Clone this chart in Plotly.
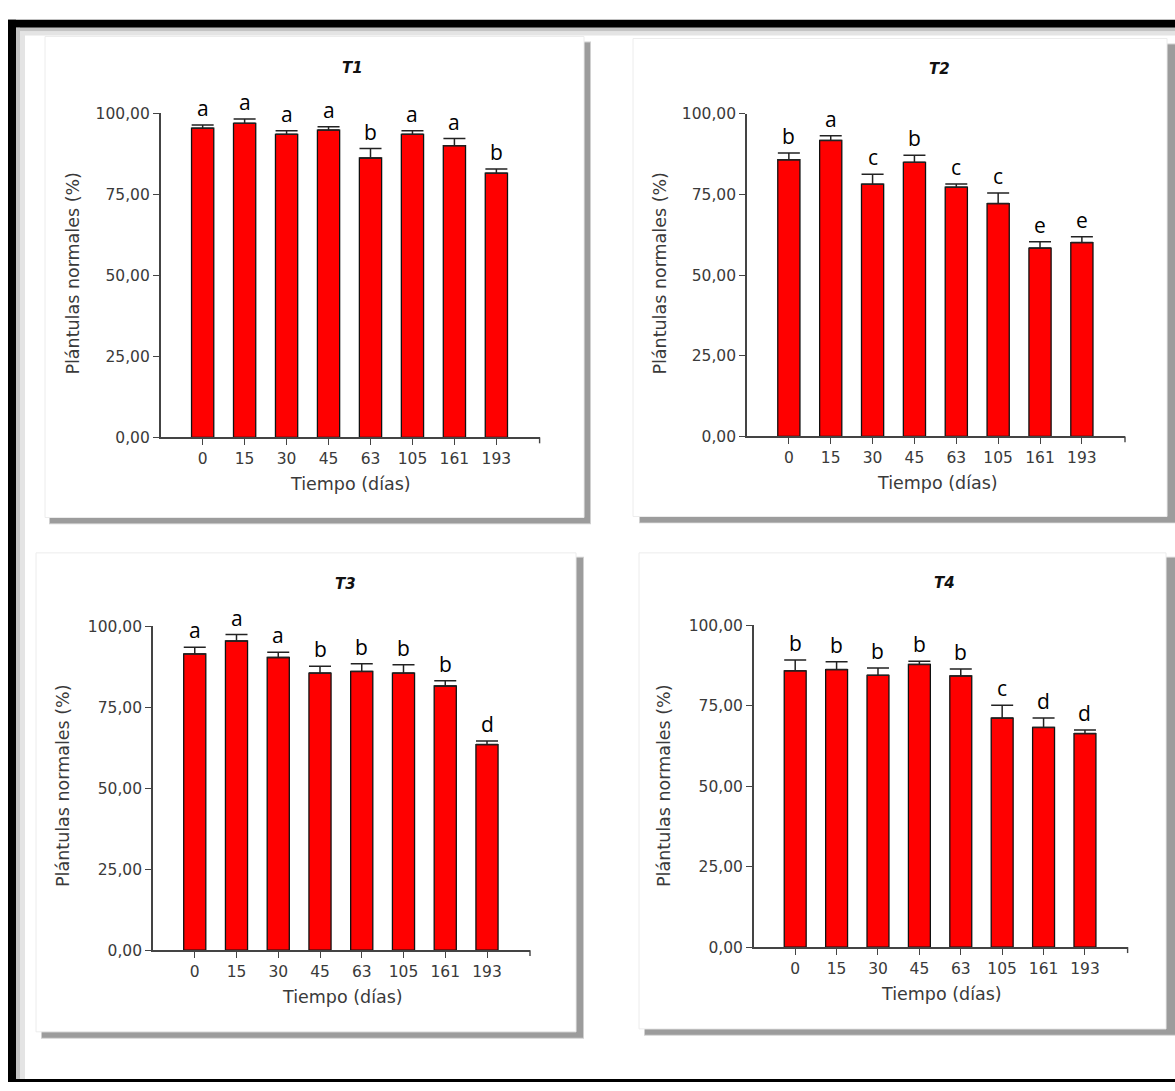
import plotly.graph_objects as go

# ---------------- data ----------------
days = ["0", "15", "30", "45", "63", "105", "161", "193"]

t1_mean = [95.4, 96.9, 93.5, 94.8, 86.2, 93.5, 90.0, 81.5]
t1_err = [1.0, 1.3, 1.1, 1.0, 2.9, 1.1, 2.2, 1.3]
t1_letters = ["a", "a", "a", "a", "b", "a", "a", "b"]

t2_mean = [85.8, 91.8, 78.2, 85.0, 77.3, 72.2, 58.4, 60.1]
t2_err = [2.1, 1.4, 3.1, 2.2, 1.0, 3.3, 2.0, 1.8]
t2_letters = ["b", "a", "c", "b", "c", "c", "e", "e"]

t3_mean = [91.5, 95.5, 90.4, 85.6, 86.1, 85.6, 81.6, 63.5]
t3_err = [2.1, 2.0, 1.6, 2.1, 2.4, 2.6, 1.6, 1.1]
t3_letters = ["a", "a", "a", "b", "b", "b", "b", "d"]

t4_mean = [85.9, 86.3, 84.5, 87.9, 84.3, 71.2, 68.3, 66.4]
t4_err = [3.4, 2.4, 2.3, 1.0, 2.2, 4.0, 2.9, 1.1]
t4_letters = ["b", "b", "b", "b", "b", "c", "d", "d"]

panel_titles = ["T1", "T2", "T3", "T4"]
y_ticks = [0, 25, 50, 75, 100]
x_title = "Tiempo (días)"
y_title = "Plántulas normales (%)"

# ---------------- layout geometry (pixels) ----------------
W, H = 1175, 1091


def px(x):
    return x / W


def py(y):
    return 1 - y / H


# plot area: (x_left, x_right, y_zero, y_hundred)
areas = [
    (160.7, 539.6, 435.6, 106.0),
    (747.0, 1125.0, 434.6, 106.7),
    (153.0, 530.0, 957.0, 627.8),
    (753.8, 1127.6, 953.9, 626.8),
]
# white boxes and shadows
boxes = [
    (45, 28, 584, 517),
    (633, 30, 1167, 516),
    (36, 553, 576, 1040),
    (639, 553, 1166, 1037),
]
shadows = [
    (50, 34, 590, 523),
    (640, 36, 1175, 522),
    (42, 558, 583, 1046),
    (645, 558, 1175, 1043),
]
title_pos = [(352, 60), (939, 61), (345, 585), (944, 584)]
xtitle_pos = [(350, 483), (937, 482), (342, 1005), (941, 1002)]
ytitle_pos = [(73, 269), (660, 269), (63, 790), (664, 790)]

series = [
    (t1_mean, t1_err, t1_letters),
    (t2_mean, t2_err, t2_letters),
    (t3_mean, t3_err, t3_letters),
    (t4_mean, t4_err, t4_letters),
]

AX = "#444444"
TXT = "#3a3a3a"
FONT = "DejaVu Sans"

fig = go.Figure()
shapes = []
annotations = []

# outer black frame + gray inner fade
shapes += [
    dict(type="rect", xref="paper", yref="paper", x0=px(8), x1=px(W), y0=py(11), y1=py(19),
         fillcolor="black", line_width=0, layer="below"),
    dict(type="rect", xref="paper", yref="paper", x0=px(8), x1=px(16), y0=py(11), y1=py(H),
         fillcolor="black", line_width=0, layer="below"),
    dict(type="rect", xref="paper", yref="paper", x0=px(8), x1=px(W), y0=py(1088), y1=py(H),
         fillcolor="black", line_width=0, layer="below"),
    dict(type="rect", xref="paper", yref="paper", x0=px(16), x1=px(W), y0=py(19), y1=py(23),
         fillcolor="#c4c4c4", line_width=0, layer="below"),
    dict(type="rect", xref="paper", yref="paper", x0=px(16), x1=px(W), y0=py(23), y1=py(27),
         fillcolor="#e4e4e4", line_width=0, layer="below"),
    dict(type="rect", xref="paper", yref="paper", x0=px(16), x1=px(20), y0=py(19), y1=py(1088),
         fillcolor="#c4c4c4", line_width=0, layer="below"),
    dict(type="rect", xref="paper", yref="paper", x0=px(20), x1=px(25), y0=py(23), y1=py(1088),
         fillcolor="#e4e4e4", line_width=0, layer="below"),
]

for i in range(4):
    sx0, sy0, sx1, sy1 = shadows[i]
    bx0, by0, bx1, by1 = boxes[i]
    shapes.append(dict(type="rect", xref="paper", yref="paper",
                       x0=px(sx0 - 1), x1=px(min(sx1 + 1, W)), y0=py(sy0 - 1), y1=py(sy1 + 1),
                       fillcolor="#d0d0d0", line_width=0, layer="below"))
    shapes.append(dict(type="rect", xref="paper", yref="paper",
                       x0=px(sx0), x1=px(sx1), y0=py(sy0), y1=py(sy1),
                       fillcolor="#9c9c9c", line_width=0, layer="below"))
    shapes.append(dict(type="rect", xref="paper", yref="paper",
                       x0=px(bx0), x1=px(bx1), y0=py(by0), y1=py(by1),
                       fillcolor="white", line=dict(color="#ececec", width=1), layer="below"))

layout_axes = {}
for i, (mean, err, letters) in enumerate(series):
    n = "" if i == 0 else str(i + 1)
    xa, ya = "x" + n, "y" + n
    xl, xr, y0p, y100p = areas[i]
    fig.add_trace(go.Bar(
        x=days, y=mean, xaxis=xa, yaxis=ya,
        marker=dict(color="#ff0000", line=dict(color="#111111", width=1.3)),
        error_y=dict(type="data", array=err, arrayminus=[0] * len(err), symmetric=False,
                     color="#222222", thickness=1.5, width=11),
        showlegend=False, hoverinfo="x+y",
    ))
    layout_axes["xaxis" + n] = dict(
        domain=[px(xl), px(xr)], anchor=ya, type="category",
        range=[-1.0, 8.03], showline=True, linecolor=AX, linewidth=1.6,
        ticks="outside", ticklen=6, tickwidth=1.4, tickcolor=AX,
        tickfont=dict(family=FONT, size=15.5, color=TXT),
        showgrid=False, zeroline=False, fixedrange=True,
    )
    layout_axes["yaxis" + n] = dict(
        domain=[py(y0p), py(y100p)], anchor=xa, range=[0, 100],
        tickvals=y_ticks, tickformat=".2f",
        showline=True, linecolor=AX, linewidth=1.6,
        ticks="outside", ticklen=6, tickwidth=1.4, tickcolor=AX,
        tickfont=dict(family=FONT, size=15.5, color=TXT),
        showgrid=False, zeroline=False, fixedrange=True,
    )
    # end tick at right of x axis
    shapes.append(dict(type="line", xref=xa + " domain", yref="paper",
                       x0=1, x1=1, y0=py(y0p), y1=py(y0p + 6),
                       line=dict(color=AX, width=1.4)))
    # significance letters (x given as category index)
    for j, (m, e, l) in enumerate(zip(mean, err, letters)):
        annotations.append(dict(x=j, y=m + e, xref=xa, yref=ya, text=l, showarrow=False,
                                yanchor="bottom", yshift=1,
                                font=dict(family="Open Sans", size=21, color="black")))
    tx, ty = title_pos[i]
    annotations.append(dict(x=px(tx), y=py(ty), xref="paper", yref="paper",
                            text="<b><i>" + panel_titles[i] + "</i></b>", showarrow=False,
                            xanchor="center", yanchor="middle",
                            font=dict(family=FONT, size=15, color="#111111")))
    xtx, xty = xtitle_pos[i]
    annotations.append(dict(x=px(xtx), y=py(xty), xref="paper", yref="paper",
                            text=x_title, showarrow=False, xanchor="center", yanchor="middle",
                            font=dict(family=FONT, size=17.5, color=TXT)))
    ytx, yty = ytitle_pos[i]
    annotations.append(dict(x=px(ytx), y=py(yty), xref="paper", yref="paper",
                            text=y_title, showarrow=False, textangle=-90,
                            xanchor="center", yanchor="middle",
                            font=dict(family=FONT, size=17.5, color=TXT)))

fig.update_layout(
    width=W, height=H, margin=dict(l=0, r=0, t=0, b=0),
    paper_bgcolor="white", plot_bgcolor="rgba(0,0,0,0)",
    separators=",.", bargap=0.47,
    shapes=shapes, annotations=annotations,
    **layout_axes,
)

# place the figure at the page origin (remove default body margin)
pin = ("document.documentElement.style.margin='0';document.body.style.margin='0';"
       "document.body.style.overflow='hidden';"
       "var g=document.getElementById('{plot_id}');"
       "g.style.position='absolute';g.style.left='0px';g.style.top='0px';")

fig.write_html("out.html", post_script=pin, config={"displayModeBar": False})
